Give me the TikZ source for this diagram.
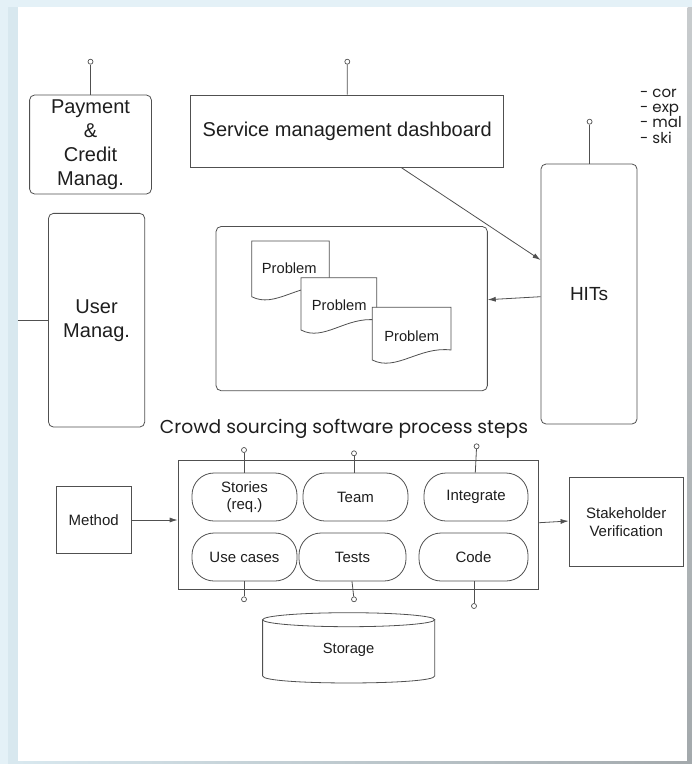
\documentclass[tikz,border=0pt]{standalone}
\usepackage{fontspec}
\setmainfont{Liberation Sans}
\newfontfamily\handfont{Poppins}
\usetikzlibrary{arrows.meta,calc}
\definecolor{ln}{HTML}{505050}
\definecolor{txt}{HTML}{1E1E1E}
\definecolor{bgblue}{HTML}{E4F1F7}
\definecolor{bgblue2}{HTML}{D8E8EF}
\definecolor{shade1}{HTML}{A3A9AC}
\begin{document}
\begin{tikzpicture}[x=1pt,y=-1pt,
  every node/.style={text=txt},
  box/.style={draw=ln, line width=0.8pt, fill=white, inner sep=0pt, align=center},
  rbox/.style={box, rounded corners=5pt},
  pill/.style={box, rounded corners=22pt, minimum height=48pt, font=\midfont},
  bigfont/.style={font=\fontsize{20}{24}\selectfont},
  pinc/.style={circle, draw=ln, line width=0.7pt, fill=white, minimum size=5pt, inner sep=0pt},
  pinl/.style={draw=ln, line width=0.8pt},
  conn/.style={draw=ln, line width=0.8pt, -{Latex[length=8pt,width=5pt]}},
  docst/.style={draw=ln, line width=0.8pt, fill=white},
  listtxt/.style={anchor=base west, inner sep=0pt, font=\handfont\fontsize{15}{16}\selectfont}]
\newcommand{\midfont}{\fontsize{15}{18}\selectfont}
\useasboundingbox (0,0) rectangle (692,764);
% background
\fill[bgblue] (0,0) rectangle (692,764);
\fill[bgblue2] (8,7) rectangle (17.5,764);
\fill[white] (17.5,7.3) rectangle (687.5,761);

% top row
\node[rbox, bigfont, minimum width=121.8pt, minimum height=99pt] (pay) at (90.5,144.5) {Payment\\\&\\Credit\\Manag.};
\node[box, bigfont, minimum width=313pt, minimum height=72.5pt] (dash) at (347.2,131.2) {Service management dashboard};
\node[rbox, font=\fontsize{19}{22}\selectfont, minimum width=96pt, minimum height=260pt] (hits) at (589,294) {HITs};
\node[rbox, bigfont, minimum width=96.2pt, minimum height=213.7pt] (user) at (96.6,320.2) {User\\Manag.};
\node[rbox, minimum width=271.3pt, minimum height=164.2pt] (prob) at (351.7,308.6) {};

% pins top
\node[pinc] (ppay) at (90.5,61.7) {};
\node[pinc] (pdash) at (347.3,61.7) {};
\node[pinc] (phits) at (589.6,121.7) {};
\draw[pinl] (pay.north) -- (ppay);
\draw[pinl] (dash.north) -- (pdash);
\draw[pinl] (hits.north -| phits) -- (phits);

% list text (cut off at right)
\begin{scope}
\clip (17.5,7.3) rectangle (687.5,761);
\node[listtxt] (l1) at (640,97) {- cor};
\node[listtxt] (l2) at (640,112.3) {- exp};
\node[listtxt] (l3) at (640,127.5) {- mal};
\node[listtxt] (l4) at (640,143) {- ski};
\end{scope}
\shade[top color=shade1!60, bottom color=shade1] (687.5,7.3) rectangle (692,764);
\shade[left color=bgblue2, right color=shade1] (17.5,761) rectangle (692,764);

% user line
\coordinate (uleft) at (17.5,320.7);
\draw[pinl] (uleft) -- (user.west |- uleft);

% problems
\def\docshape#1#2#3#4{% x0 x1 top yb
  \pgfmathsetmacro{\dw}{#2-#1}
  \filldraw[docst] (#1,#4) -- (#1,#3) -- (#2,#3) -- (#2,#4-10)
    .. controls ({#1+0.6*\dw},#4-14) and ({#1+0.3*\dw},#4+12) .. (#1,#4) -- cycle;}
\docshape{251.7}{329.3}{241}{296.7}
\node[font=\fontsize{14.7}{17}\selectfont] (d1) at (289.3,268.3) {Problem};
\docshape{301}{376.7}{277.7}{330}
\node[font=\fontsize{14.7}{17}\selectfont] (d2) at (339.3,305) {Problem};
\docshape{372.3}{451}{307.3}{360}
\node[font=\fontsize{14.7}{17}\selectfont] (d3) at (411.7,336) {Problem};

% arrows top
\draw[conn] ($(dash.south)+(54.5,0)$) -- ($(hits.west)+(0,-34)$);
\draw[conn] ($(hits.west)+(0,2.7)$) -- ($(prob.east)+(0,-8.9)$);

% title
\node[anchor=base, inner sep=0pt] (title) at (344,433) {\resizebox{368pt}{!}{\handfont Crowd sourcing software process steps}};

% process
\node[box, minimum width=360pt, minimum height=129.5pt] (proc) at (358,524.75) {};
\node[pill, minimum width=105pt] (stor1) at (244.5,497) {Stories\\[-0.5pt](req.)};
\node[pill, minimum width=105pt] (team) at (355.5,497) {Team};
\node[pill, minimum width=104pt] (integ) at (476,497) {Integrate};
\node[pill, minimum width=105pt] (usec) at (244.5,557) {Use cases};
\node[pill, minimum width=107pt] (tests) at (352.5,557) {Tests};
\node[pill, minimum width=109pt] (code) at (473.5,557) {Code};

\node[pinc] (pst) at (244,450) {};
\node[pinc] (pte) at (354,453.3) {};
\node[pinc] (pin) at (476.6,446.3) {};
\node[pinc] (pus) at (244,599.3) {};
\node[pinc] (pts) at (354,599.3) {};
\node[pinc] (pco) at (474,606) {};
\draw[pinl] (stor1.north -| pst) -- (pst);
\draw[pinl] (team.north -| pte) -- (pte);
\draw[pinl] ($(integ.north)+(-0.7,0)$) -- (pin);
\draw[pinl] (usec.south -| pus) -- (pus);
\draw[pinl] ($(tests.south)+(-0.5,0)$) -- (pts);
\draw[pinl] (code.south -| pco) -- (pco);

\node[box, font=\midfont, minimum width=75.5pt, minimum height=66.7pt] (meth) at (93.75,520) {Method};
\node[box, font=\midfont, minimum width=114.5pt, minimum height=89pt] (stake) at (626.25,522.2) {Stakeholder\\[-0.5pt]Verification};
\draw[conn] (meth.east) -- (meth.east -| proc.west);
\draw[conn] ($(proc.east)+(0,-2)$) -- ($(stake.west)+(0,-1.2)$);

% storage cylinder
\filldraw[docst] (262.6,619.7) -- (262.6,676) .. controls (262.6,685.3) and (434.7,685.3) .. (434.7,676) -- (434.7,619.7);
\draw[docst] (348.65,619.7) ellipse [x radius=86.05pt, y radius=7pt];
\node[font=\fontsize{14.7}{17}\selectfont] (storage) at (348.6,650) {Storage};
\end{tikzpicture}
\end{document}
